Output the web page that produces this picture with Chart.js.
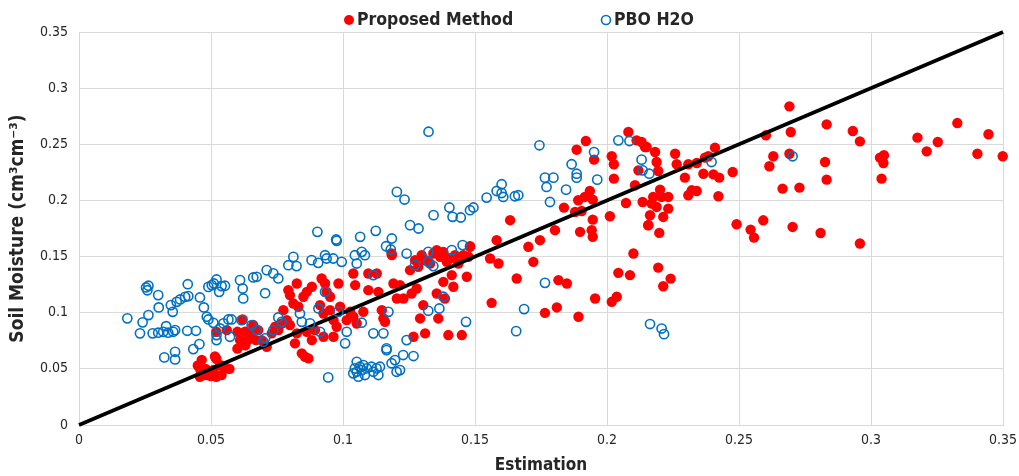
<!DOCTYPE html>
<html><head><meta charset="utf-8">
<script src="https://cdn.jsdelivr.net/npm/chart.js@4.4.0/dist/chart.umd.min.js"></script>
<style>html,body{margin:0;padding:0;background:#fff;}#wrap{width:1019px;height:476px;}</style>
</head><body><div id="wrap"><canvas id="c" width="1019" height="476"></canvas></div>
<script>
const seriesNames = ['Proposed Method', 'PBO H2O'];
const tickValues = [0, 0.05, 0.1, 0.15, 0.2, 0.25, 0.3, 0.35];
const tickLabels = ['0', '0.05', '0.1', '0.15', '0.2', '0.25', '0.3', '0.35'];
const xTitle = 'Estimation';
const yTitle = 'Soil Moisture (cm³cm⁻³)';
const refLine = [[0, 0], [0.35, 0.35]];

// Proposed Method: [estimation, soil moisture]
const proposed = [
[0.045,0.053],[0.0465,0.058],[0.048,0.050],[0.051,0.049],[0.052,0.059],[0.055,0.052],[0.057,0.050],[0.048,0.0445],[0.050,0.0436],[0.052,0.043],[0.046,0.049],[0.0458,0.043],[0.049,0.0445],[0.054,0.0445],[0.056,0.0504],[0.0515,0.061],[0.0534,0.0534],
[0.052,0.083],[0.056,0.0845],[0.060,0.083],[0.062,0.094],[0.066,0.089],[0.060,0.068],[0.063,0.071],[0.067,0.0756],[0.065,0.080],[0.064,0.0756],
[0.0793,0.1201],[0.0799,0.1157],[0.0825,0.1260],[0.0812,0.1082],[0.0831,0.1053],[0.0850,0.1142],[0.0863,0.1186],[0.0882,0.1231],[0.0919,0.1305],[0.0932,0.1260],[0.0938,0.1186],[0.0951,0.1142],[0.0983,0.1260],[0.0913,0.1068],[0.0926,0.0993],[0.0951,0.1023],[0.0989,0.1053],[0.0964,0.0934],[0.0976,0.0875],[0.1014,0.0934],[0.1027,0.1008],[0.1039,0.1349],[0.1046,0.1246],[0.1039,0.0964],[0.1052,0.0904],[0.1077,0.1008],[0.1096,0.1201],[0.1096,0.1349],[0.1128,0.1349],[0.1134,0.1186],[0.1147,0.1023],[0.1153,0.0949],[0.1159,0.0919],[0.1185,0.1513],[0.1191,0.1260],[0.1204,0.1127],
[0.0610,0.0756],[0.0629,0.0830],[0.0648,0.0786],[0.0661,0.0875],[0.0679,0.0845],[0.0692,0.0756],[0.0711,0.0697],[0.0730,0.0816],[0.0743,0.0875],[0.0755,0.0845],[0.0768,0.0904],[0.0774,0.1023],[0.0787,0.0934],[0.0799,0.0890],[0.0818,0.0727],[0.0825,0.0816],[0.0844,0.0638],[0.0856,0.0608],[0.0869,0.0593],[0.0863,0.0830],[0.0882,0.0756],[0.0894,0.0845],[0.0926,0.0786],[0.0964,0.0786],
[0.1216,0.1246],[0.1229,0.1127],[0.1260,0.1171],[0.1279,0.1216],[0.1304,0.1068],[0.1292,0.0949],[0.1267,0.0786],[0.1311,0.0816],[0.1361,0.0949],[0.1355,0.1171],[0.1380,0.1275],[0.1386,0.1127],[0.1412,0.1335],[0.1418,0.1231],[0.1399,0.0801],[0.1450,0.0801],[0.1469,0.1320],[0.1254,0.1379],[0.1285,0.1409],[0.1273,0.1468],[0.1298,0.1513],[0.1311,0.1468],[0.1330,0.1438],[0.1342,0.1527],[0.1355,0.1557],[0.1368,0.1498],[0.1380,0.1542],[0.1393,0.1453],[0.1405,0.1483],[0.1424,0.1513],[0.1437,0.1438],[0.1456,0.1513],[0.1481,0.1587],[0.1475,0.1498],[0.1557,0.1483],[0.1582,0.1646],[0.1589,0.1438],[0.1563,0.1088],[0.1658,0.1305],[0.1702,0.1587],[0.1721,0.1453],[0.1746,0.1646],[0.1765,0.0999],[0.1803,0.1735],[0.1810,0.1047],[0.1816,0.1290],[0.1848,0.1260],[0.1892,0.0964],[0.1898,0.1720],[0.1942,0.1735],[0.1946,0.1676],[0.1955,0.1127],[0.2018,0.1097],[0.2037,0.1142],[0.2043,0.1355],[0.2087,0.1335],[0.2100,0.1527],[0.2157,0.1780],[0.1633,0.1824],
[0.1184,0.1527],[0.1481,0.1593],
[0.2081,0.2609],[0.2112,0.2535],[0.2131,0.2520],[0.2150,0.2476],[0.1920,0.2529],[0.1885,0.2452],[0.1951,0.2363],[0.2018,0.2393],[0.2026,0.2322],[0.2026,0.2194],[0.2119,0.2268],[0.2106,0.2135],[0.1935,0.2084],[0.1916,0.2031],[0.1891,0.2002],[0.1946,0.2007],[0.2072,0.1977],[0.2135,0.1986],[0.1837,0.1936],[0.1904,0.1906],[0.2011,0.1859],[0.1946,0.1829],[0.1879,0.1897],
[0.2258,0.2416],[0.2264,0.2322],[0.2308,0.2322],[0.2340,0.2333],[0.2371,0.2381],[0.2384,0.2393],[0.2365,0.2238],[0.2403,0.2232],[0.2425,0.2203],[0.2476,0.2253],[0.2295,0.2203],[0.2321,0.2090],[0.2340,0.2084],[0.2308,0.2046],[0.2422,0.2037],[0.2194,0.2262],[0.2201,0.2096],[0.2207,0.2031],[0.2175,0.2031],[0.2169,0.1972],[0.2232,0.2031],[0.2232,0.1927],[0.2213,0.1853],[0.2163,0.1868],[0.2156,0.1779],[0.2198,0.1711],[0.2144,0.2476],[0.2182,0.2431],[0.2409,0.2470],[0.2188,0.2342],[0.2188,0.1942],
[0.2491,0.1788],[0.2544,0.1740],[0.2557,0.1669],[0.2592,0.1823],[0.2703,0.1764],[0.2809,0.1710],[0.2194,0.1402],[0.2241,0.1304],[0.2213,0.1236],[0.2691,0.2838],[0.2832,0.2677],[0.2696,0.2609],[0.2602,0.2580],[0.2630,0.2393],[0.2615,0.2304],[0.2691,0.2416],[0.2826,0.2342],[0.2832,0.2185],[0.2665,0.2105],[0.2729,0.2114],
[0.2931,0.2618],[0.2958,0.2526],[0.2958,0.1616],[0.3034,0.2381],[0.3049,0.2402],[0.3047,0.2333],[0.3040,0.2194],[0.3176,0.2559],[0.3211,0.2437],[0.3253,0.2520],[0.3327,0.2689],[0.3403,0.2416],[0.3445,0.2589],[0.3499,0.2393]
];

// PBO H2O: [estimation, soil moisture]
const pbo = [
[0.0183,0.095],[0.0254,0.1225],[0.0263,0.124],[0.0259,0.120],[0.030,0.1157],[0.0263,0.0979],[0.0241,0.0914],[0.0231,0.0816],[0.0302,0.1047],[0.0279,0.0816],[0.030,0.0822],[0.0319,0.083],[0.033,0.088],[0.0338,0.0822],[0.0357,0.083],[0.0364,0.0845],[0.0348,0.1068],[0.0355,0.1008],[0.037,0.1097],[0.0383,0.1118],[0.0402,0.1141],[0.0414,0.1148],[0.0412,0.1254],[0.041,0.0839],[0.0443,0.0839],[0.0323,0.0602],[0.0364,0.0652],[0.0364,0.0584],[0.0456,0.072],[0.0433,0.0676],[0.0458,0.1136],[0.0473,0.1047],[0.0484,0.0964],[0.049,0.094],[0.049,0.123],[0.0503,0.1246],[0.0511,0.126],[0.0521,0.1296],[0.0531,0.1186],[0.054,0.1237],[0.0553,0.124],[0.0509,0.091],[0.0521,0.0801],[0.0534,0.086],[0.0521,0.0756],[0.0547,0.0905],[0.0566,0.094],[0.0578,0.094],[0.0572,0.0786],[0.061,0.129],[0.062,0.1216],[0.0622,0.1127],[0.066,0.1314],[0.0673,0.132],[0.0616,0.0934],[0.0654,0.089],[0.0673,0.0845],
[0.0976,0.164],[0.0812,0.1497],[0.0793,0.1423],[0.0824,0.1415],[0.0881,0.1468],[0.0906,0.1444],[0.0932,0.1512],[0.0938,0.1483],[0.0963,0.1483],[0.0995,0.1453],[0.1045,0.1512],[0.1052,0.1438],[0.1071,0.1542],[0.1083,0.1512],[0.1163,0.1592],[0.1241,0.1527],[0.0705,0.1174],[0.0711,0.1379],[0.0736,0.135],[0.0755,0.1305],[0.1115,0.1335],[0.0705,0.0772],[0.0698,0.0742],[0.0736,0.0845],[0.0755,0.0958],[0.0768,0.0919],[0.0837,0.0993],[0.0844,0.0919],[0.0875,0.0905],[0.0907,0.1038],[0.0913,0.083],[0.0932,0.1186],[0.0982,0.1008],[0.1008,0.0727],[0.1014,0.083],[0.1071,0.0911],[0.0944,0.0424],
[0.1052,0.0563],[0.1045,0.0504],[0.1039,0.046],[0.1058,0.043],[0.1052,0.0474],[0.1064,0.0519],[0.1071,0.0489],[0.1077,0.0534],[0.1083,0.0445],[0.109,0.0504],[0.1108,0.0519],[0.1115,0.0474],[0.1127,0.0504],[0.1134,0.0445],[0.114,0.0519],[0.1165,0.0667],[0.1184,0.055],[0.1197,0.0578],[0.1203,0.0474],
[0.1115,0.0816],[0.1153,0.0816],[0.1165,0.0682],[0.1172,0.1008],[0.1228,0.0623],[0.1241,0.0756],
[0.1324,0.2612],[0.1204,0.2076],[0.1233,0.2008],[0.0903,0.1720],[0.0974,0.1652],[0.1065,0.1676],[0.1124,0.1729],[0.1185,0.1661],[0.1254,0.1780],[0.1286,0.1750],[0.1343,0.1869],[0.1403,0.1937],[0.1415,0.1854],[0.1446,0.1848],[0.1481,0.1913],[0.1494,0.1937],[0.1181,0.1563],
[0.1273,0.1424],[0.1323,0.1542],[0.1323,0.1453],[0.1342,0.1415],[0.1412,0.1557],[0.1453,0.1602],[0.1380,0.1142],[0.1323,0.1017],[0.1365,0.1038],[0.1466,0.0919],[0.1267,0.0614],[0.1216,0.0489],[0.1656,0.0836],[0.1686,0.1032],[0.1765,0.1266],[0.2163,0.0899],
[0.1744,0.2491],[0.2043,0.2535],[0.2085,0.2529],[0.1951,0.2431],[0.1866,0.2322],[0.1885,0.2238],[0.1885,0.2203],[0.1963,0.2185],[0.1765,0.2203],[0.1797,0.2203],[0.1771,0.2120],[0.1845,0.2096],[0.1784,0.1986],[0.1601,0.2144],[0.1582,0.2084],[0.1601,0.2066],[0.1607,0.2031],[0.1651,0.2037],[0.1664,0.2046],[0.1544,0.2025],[0.2131,0.2363],[0.2135,0.2268],[0.2160,0.2238],
[0.2396,0.2342],[0.2703,0.2393],[0.2207,0.0859],[0.2216,0.0809]
];

const FONT = "'Liberation Sans Narrow', 'DejaVu Sans Condensed', 'Arial Narrow', sans-serif";
const RED = '#FF0000', BLUE = '#0070C0', TXT = '#262626', GRID = '#D9D9D9';
const toXY = a => a.map(p => ({x: p[0], y: p[1]}));

const legendPlugin = {
  id: 'topLegend',
  afterDraw(chart) {
    const ctx = chart.ctx;
    ctx.save();
    ctx.font = "bold 17.5px " + FONT;
    ctx.textBaseline = 'middle';
    const y = 20;
    ctx.beginPath(); ctx.arc(349, y, 5, 0, Math.PI * 2); ctx.fillStyle = RED; ctx.fill();
    ctx.fillStyle = TXT; ctx.fillText(seriesNames[0], 357, y);
    ctx.beginPath(); ctx.arc(606, y, 4.5, 0, Math.PI * 2); ctx.strokeStyle = BLUE; ctx.lineWidth = 1.6; ctx.stroke();
    ctx.fillStyle = TXT; ctx.fillText(seriesNames[1], 614, y);
    ctx.restore();
  }
};

const tickOpts = {color: TXT, font: {family: FONT, size: 14}};

new Chart(document.getElementById('c'), {
  type: 'scatter',
  data: {
    datasets: [
      {label: seriesNames[1], data: toXY(pbo), order: 0, pointRadius: 4.6, pointHoverRadius: 4.6,
       pointBackgroundColor: 'rgba(0,0,0,0)', pointBorderColor: BLUE, pointBorderWidth: 1.6, clip: false},
      {label: 'line', data: toXY(refLine), order: 1, showLine: true, borderColor: '#000', borderWidth: 3.6,
       pointRadius: 0, clip: false},
      {label: seriesNames[0], data: toXY(proposed), order: 2, pointRadius: 5.2, pointHoverRadius: 5.2,
       pointBackgroundColor: RED, pointBorderColor: RED, pointBorderWidth: 0, clip: false}
    ]
  },
  options: {
    responsive: false, animation: false, devicePixelRatio: 1,
    layout: {padding: {top: 32, right: 16, left: 0, bottom: 0}},
    plugins: {legend: {display: false}, tooltip: {enabled: false}},
    scales: {
      x: {
        type: 'linear', min: 0, max: 0.35,
        afterBuildTicks: s => { s.ticks = tickValues.map(v => ({value: v})); },
        afterFit: s => { s.height = 51; s.paddingRight = 0; s.paddingLeft = 0; },
        ticks: Object.assign({}, tickOpts, {padding: 7, maxRotation: 0, callback: (v, i) => tickLabels[i]}),
        grid: {color: GRID, drawTicks: false},
        border: {color: GRID},
        title: {display: true, text: xTitle, color: TXT, font: {family: FONT, size: 17, weight: 'bold'}, padding: {top: 0, bottom: 0}}
      },
      y: {
        type: 'linear', min: 0, max: 0.35,
        afterBuildTicks: s => { s.ticks = tickValues.map(v => ({value: v})); },
        afterFit: s => { s.width = 79; s.paddingTop = 0; s.paddingBottom = 0; },
        ticks: Object.assign({}, tickOpts, {padding: 11, callback: (v, i) => tickLabels[i]}),
        grid: {color: GRID, drawTicks: false},
        border: {color: GRID},
        title: {display: true, text: yTitle, color: TXT, font: {family: FONT, size: 19, weight: 'bold'}, padding: {top: 7, bottom: 0}}
      }
    }
  },
  plugins: [legendPlugin]
});
</script>
</body></html>
